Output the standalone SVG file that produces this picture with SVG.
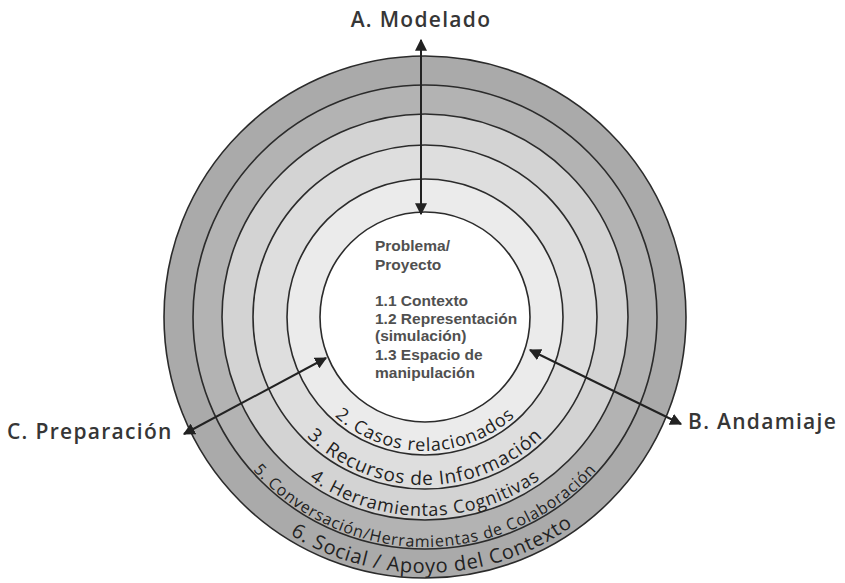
<svg xmlns="http://www.w3.org/2000/svg" width="845" height="583" viewBox="0 0 845 583">
  <style>
    .ring { stroke: #2b2b2b; stroke-width: 1.6; }
    .label { font-family: "Open Sans", "DejaVu Sans", sans-serif; font-weight: 600; font-size: 21px; fill: #363636; letter-spacing: 1.3px; }
    .core { font-family: "Liberation Sans", Arial, sans-serif; font-weight: bold; font-size: 15.5px; fill: #505050; }
    .band { font-family: "Open Sans", "DejaVu Sans", sans-serif; font-weight: 500; fill: #222; letter-spacing: 0.8px; }
    .conn { stroke: #222; stroke-width: 2; fill: none; marker-start: url(#tip); marker-end: url(#tip); }
  </style>
  <defs>
    <marker id="tip" viewBox="0 0 10 10" refX="9" refY="5" markerWidth="6" markerHeight="6" orient="auto-start-reverse" markerUnits="strokeWidth">
      <path d="M0,0 L10,5 L0,10 z" fill="#222"/>
    </marker>
    <!-- lower half-circles used as baselines for the band titles (cx=425, cy=317) -->
    <path id="arc2" d="M291,317 A134,134 0 0 0 559,317"/>
    <path id="arc3" d="M257,317 A168,168 0 0 0 593,317"/>
    <path id="arc4" d="M226,317 A199,199 0 0 0 624,317"/>
    <path id="arc5" d="M195,317 A230,230 0 0 0 655,317"/>
    <path id="arc6" d="M169,317 A256,256 0 0 0 681,317"/>
  </defs>

  <rect width="845" height="583" fill="#fff"/>

  <g id="ring6">
    <circle class="ring" cx="425" cy="317" r="261" fill="#aaaaaa"/>
    <text class="band" font-size="20"><textPath href="#arc6" startOffset="51%" text-anchor="middle">6. Social / Apoyo del Contexto</textPath></text>
  </g>
  <g id="ring5">
    <circle class="ring" cx="425" cy="317" r="232" fill="#b3b3b3"/>
    <text class="band" font-size="16"><textPath href="#arc5" startOffset="50%" text-anchor="middle">5. Conversación/Herramientas de Colaboración</textPath></text>
  </g>
  <g id="ring4">
    <circle class="ring" cx="425" cy="317" r="203" fill="#d3d3d3"/>
    <text class="band" font-size="18"><textPath href="#arc4" startOffset="50%" text-anchor="middle">4. Herramientas Cognitivas</textPath></text>
  </g>
  <g id="ring3">
    <circle class="ring" cx="425" cy="317" r="172" fill="#dedede"/>
    <text class="band" font-size="19"><textPath href="#arc3" startOffset="50%" text-anchor="middle">3. Recursos de Información</textPath></text>
  </g>
  <g id="ring2">
    <circle class="ring" cx="425" cy="317" r="138" fill="#ebebeb"/>
    <text class="band" font-size="18"><textPath href="#arc2" startOffset="50%" text-anchor="middle">2. Casos relacionados</textPath></text>
  </g>
  <g id="core">
    <circle class="ring" cx="425" cy="317" r="105" fill="#fff"/>
    <text class="core">
      <tspan x="375" y="251">Problema/</tspan>
      <tspan x="375" y="270">Proyecto</tspan>
      <tspan x="375" y="306">1.1 Contexto</tspan>
      <tspan x="375" y="324">1.2 Representación</tspan>
      <tspan x="375" y="341">(simulación)</tspan>
      <tspan x="375" y="360">1.3 Espacio de</tspan>
      <tspan x="375" y="378">manipulación</tspan>
    </text>
  </g>

  <g id="connectors">
    <line class="conn" x1="421" y1="40" x2="421" y2="214"/>
    <line class="conn" x1="184" y1="434" x2="326" y2="358"/>
    <line class="conn" x1="681" y1="424" x2="530" y2="350"/>
  </g>

  <g id="label-a">
    <text class="label" x="421" y="27" text-anchor="middle">A. Modelado</text>
  </g>
  <g id="label-b">
    <text class="label" x="688" y="429">B. Andamiaje</text>
  </g>
  <g id="label-c">
    <text class="label" x="7" y="439">C. Preparación</text>
  </g>
</svg>
